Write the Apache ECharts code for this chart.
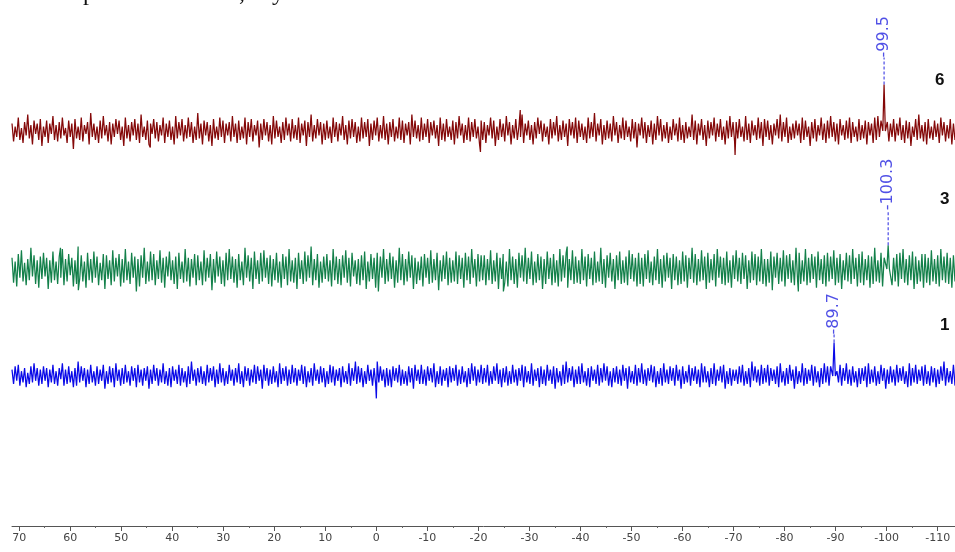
<!DOCTYPE html>
<html><head><meta charset="utf-8">
<script src="https://cdn.jsdelivr.net/npm/echarts@6/dist/echarts.min.js"></script>
<style>html,body{margin:0;padding:0;background:#fff}#c{width:955px;height:552px}</style>
</head><body><div id="c"></div>
<script>
// x axis (ppm), plotted high-to-low
const ppmStart = 71.4, ppmEnd = -113.4;
const majorTicks = [70,60,50,40,30,20,10,0,-10,-20,-30,-40,-50,-60,-70,-80,-90,-100,-110];
const minorTicks = [65,55,45,35,25,15,5,-5,-15,-25,-35,-45,-55,-65,-75,-85,-95,-105];
const traceNames = ['6','3','1'];

// baseline noise (arbitrary intensity units), left to right
const noise6 = [5,-7,3,-4,9,-6,2,-8,6,-3,11,-5,4,-9,7,-2,5,-6,8,-10,
3,-4,7,-8,5,-2,10,-6,4,-7,6,-5,9,-3,2,-8,7,-4,5,-12,
8,-5,3,-6,9,-7,4,-2,6,-9,12,-4,5,-6,3,-8,7,-5,10,-3,
4,-7,6,-9,5,-4,8,-2,7,-6,3,-10,9,-5,4,-7,6,-3,8,-6,
5,-8,11,-4,3,-6,7,-9,5,-2,8,-5,6,-7,4,-3,9,-8,5,-4,
7,-6,3,-9,10,-5,6,-3,8,-7,4,-5,9,-4,6,-8,3,-6,12,-5,
5,-9,7,-3,6,-7,4,-10,8,-5,3,-6,9,-4,7,-8,5,-3,6,-7,
10,-4,5,-8,7,-6,3,-5,9,-9,6,-4,8,-7,4,-3,7,-11,5,-6,
8,-3,6,-7,4,-9,10,-5,7,-4,3,-8,6,-6,9,-3,5,-7,8,-5,
4,-6,9,-8,5,-3,7,-10,6,-4,11,-7,4,-5,8,-3,6,-9,5,-6,
7,-5,3,-8,9,-4,6,-7,5,-3,10,-6,4,-9,7,-5,8,-4,6,-8,
3,-7,9,-5,6,-4,8,-10,5,-6,7,-3,9,-7,4,-5,10,-6,5,-9,
6,-4,8,-7,3,-5,9,-6,7,-8,5,-3,6,-9,11,-4,7,-5,4,-7,
9,-6,5,-4,8,-8,6,-3,7,-5,4,-10,9,-6,5,-7,8,-4,3,-6,
7,-9,6,-5,10,-3,5,-8,4,-6,9,-7,6,-4,8,-5,3,-9,7,-6,
6,-8,4,-3,9,-5,7,-10,3,-6,8,-4,5,-7,10,-3,6,-9,4,-5,
8,-6,3,-4,11,-8,5,-3,7,-6,4,-9,6,-5,9,-2,7,-7,5,-4,
3,-9,8,-5,6,-3,10,-7,4,-6,7,-4,5,-10,8,-3,6,-5,9,-8,
7,-4,5,-6,3,-8,9,-5,6,-4,12,-7,5,-3,8,-9,4,-6,7,-5,
5,-7,10,-3,6,-8,4,-5,9,-6,7,-4,3,-7,8,-5,6,-11,5,-3,
9,-5,6,-8,4,-4,7,-9,5,-6,10,-3,8,-7,4,-5,6,-8,3,-6,
8,-3,5,-7,9,-6,4,-8,6,-5,3,-4,11,-6,7,-9,5,-3,8,-6,
4,-10,7,-5,6,-3,9,-7,5,-4,8,-6,3,-9,7,-5,10,-4,6,-7,
6,-5,8,-4,3,-7,10,-6,5,-8,7,-3,4,-6,9,-5,6,-10,8,-4,
7,-6,4,-9,5,-3,8,-5,11,-7,6,-4,9,-8,3,-6,5,-5,7,-3,
5,-8,9,-6,7,-4,3,-10,6,-5,8,-7,4,-3,9,-6,5,-8,7,-5,
10,-4,6,-7,5,-9,8,-3,4,-6,7,-5,9,-8,6,-4,3,-7,8,-6,
4,-5,7,-9,6,-3,5,-8,9,-6,10,-4,7,-5,3,-9,6,-7,5,-4,
8,-7,5,-3,9,-6,4,-8,7,-5,6,-10,3,-4,8,-6,11,-5,4,-7,
6,-9,8,-5,3,-6,7,-4,5,-8,9,-3,6,-7,4,-5,8,-9,5,-6];
const noise3 = [9,-11,6,-14,12,-7,15,-10,5,-13,8,-9,17,-6,11,-12,7,-15,10,-8,
13,-6,9,-16,7,-11,14,-9,6,-12,10,-7,16,-13,8,-10,12,-5,9,-14,
7,-12,18,-8,11,-10,6,-15,13,-9,8,-11,14,-7,10,-13,5,-9,12,-16,
11,-8,7,-13,15,-10,9,-6,12,-14,8,-11,16,-9,6,-12,13,-7,10,-18,
8,-14,11,-7,17,-12,6,-10,14,-9,12,-13,7,-8,15,-11,9,-15,10,-6,
14,-9,7,-12,10,-16,13,-8,6,-11,16,-10,9,-14,8,-7,12,-13,11,-9,
6,-13,15,-10,9,-7,12,-17,8,-11,14,-6,10,-12,7,-14,13,-9,16,-8,
10,-11,8,-15,12,-9,6,-13,17,-7,11,-10,9,-16,14,-8,7,-12,13,-10,
15,-7,9,-12,11,-14,8,-9,13,-11,6,-15,12,-8,10,-13,16,-10,7,-11,
9,-16,13,-8,7,-12,14,-10,11,-7,18,-13,8,-9,12,-15,6,-11,10,-8,
12,-10,7,-14,16,-9,10,-12,8,-13,11,-7,15,-11,9,-14,13,-6,7,-12,
8,-13,11,-9,14,-16,6,-10,12,-8,9,-15,13,-11,10,-7,16,-12,8,-10,
13,-8,10,-15,7,-11,17,-9,12,-13,8,-10,14,-7,11,-16,9,-12,6,-9,
10,-14,12,-7,9,-12,15,-11,8,-9,13,-17,7,-10,11,-8,14,-13,9,-11,
7,-10,14,-12,11,-8,9,-15,13,-9,10,-12,16,-7,8,-14,12,-10,11,-9,
11,-13,8,-9,15,-12,7,-10,13,-16,9,-8,12,-11,6,-14,16,-9,10,-12,
8,-15,13,-7,11,-10,17,-12,9,-8,14,-13,6,-11,12,-9,10,-16,8,-12,
14,-8,9,-13,12,-11,7,-14,16,-10,11,-7,13,-15,8,-9,15,-12,10,-11,
7,-12,16,-9,10,-14,12,-8,9,-13,14,-11,6,-10,17,-12,8,-15,11,-7,
13,-10,8,-16,11,-9,14,-12,7,-11,10,-13,15,-8,12,-10,9,-14,13,-12,
9,-14,12,-8,15,-11,6,-13,10,-9,16,-12,8,-15,11,-10,13,-7,9,-16,
12,-9,10,-13,7,-12,14,-10,11,-15,9,-8,17,-11,12,-13,8,-10,15,-9,
10,-16,13,-11,8,-9,12,-14,16,-7,10,-12,9,-13,14,-11,7,-15,11,-8,
15,-10,9,-12,13,-8,11,-16,7,-11,14,-9,12,-13,10,-10,16,-12,8,-14,
8,-11,14,-15,10,-7,13,-12,9,-10,15,-14,11,-8,12,-11,7,-13,17,-9,
13,-12,7,-10,16,-13,9,-11,12,-8,10,-15,14,-9,8,-12,11,-14,13,-10,
10,-8,15,-13,9,-11,12,-16,7,-9,13,-10,11,-12,16,-8,9,-14,12,-11,
14,-13,8,-9,11,-15,10,-12,17,-10,7,-11,13,-14,9,-8,15,-12,10,-13,
9,-10,12,-14,13,-8,16,-11,8,-13,11,-9,14,-16,10,-12,7,-10,12,-15,
12,-11,9,-13,15,-10,8,-12,11,-14,16,-9,10,-11,13,-12,9,-15,11,-10];
const noise1 = [4,-5,6,-3,7,-6,3,-4,5,-7,2,-5,6,-4,8,-3,5,-6,4,-5,
6,-3,5,-7,4,-4,7,-5,3,-6,5,-2,8,-6,4,-5,6,-4,3,-7,
5,-6,9,-4,6,-3,5,-7,4,-5,7,-4,3,-6,6,-5,4,-3,7,-8,
3,-5,6,-4,5,-7,8,-3,4,-6,5,-5,7,-4,3,-6,6,-3,5,-7,
7,-4,4,-6,5,-3,6,-8,4,-5,7,-3,5,-6,4,-4,8,-5,3,-6,
5,-7,6,-3,4,-5,7,-6,5,-4,3,-7,6,-5,9,-3,4,-6,5,-4,
6,-5,3,-6,7,-4,5,-3,6,-7,4,-5,8,-4,5,-6,3,-5,7,-3,
4,-6,5,-4,8,-5,3,-7,6,-3,5,-6,4,-4,7,-5,6,-3,4,-8,
7,-3,5,-6,4,-5,6,-4,3,-7,8,-5,5,-3,6,-6,4,-5,7,-4,
5,-6,4,-3,7,-5,6,-7,3,-4,5,-6,8,-3,4,-5,6,-4,5,-7,
3,-5,7,-4,6,-6,4,-3,5,-7,6,-4,3,-5,8,-6,5,-3,7,-5,
6,-4,5,-7,3,-5,7,-3,4,-6,5,-5,9,-4,6,-3,4,-7,5,-6,
4,-7,6,-3,5,-4,7,-6,4,-5,3,-6,6,-4,5,-8,7,-3,4,-5,
7,-5,4,-6,6,-3,5,-4,8,-7,3,-5,6,-6,4,-3,5,-7,6,-4,
5,-3,7,-6,4,-5,6,-4,3,-7,5,-5,8,-3,6,-6,4,-4,7,-5,
5,-4,7,-6,3,-5,6,-3,8,-5,4,-7,5,-4,6,-6,3,-5,7,-4,
4,-6,5,-3,7,-7,6,-4,3,-5,8,-6,4,-3,5,-7,6,-5,4,-6,
7,-3,4,-5,6,-8,5,-4,3,-6,7,-5,9,-4,5,-3,6,-7,4,-5,
6,-5,8,-4,3,-6,5,-7,6,-3,4,-5,7,-6,5,-4,8,-3,6,-6,
3,-7,5,-4,6,-5,4,-6,7,-3,5,-8,6,-4,3,-5,7,-6,5,-4,
8,-5,4,-6,5,-3,7,-4,6,-7,3,-5,5,-6,8,-4,4,-5,6,-3,
5,-6,7,-3,4,-8,6,-5,3,-4,7,-6,5,-3,6,-5,4,-7,8,-4,
6,-4,3,-7,5,-5,8,-6,4,-3,6,-4,7,-8,3,-5,5,-6,4,-3,
4,-5,6,-4,7,-6,3,-5,5,-7,9,-3,6,-4,4,-6,7,-5,5,-4,
7,-6,5,-3,4,-5,6,-7,8,-4,3,-6,5,-5,7,-3,4,-8,6,-5,
3,-4,8,-6,5,-5,4,-3,7,-6,6,-4,3,-7,5,-5,8,-4,6,-6,
6,-7,4,-5,3,-4,7,-6,5,-3,8,-5,4,-6,6,-4,3,-7,5,-5,
5,-3,6,-7,8,-5,4,-4,6,-6,3,-5,7,-3,5,-8,4,-5,6,-4,
4,-6,7,-4,5,-3,6,-5,3,-7,8,-6,5,-4,7,-5,4,-3,6,-6,
7,-5,3,-6,6,-4,5,-7,4,-5,6,-3,9,-6,5,-4,3,-5,7,-6];

// isolated noise spikes [ppm, intensity]
const spikes6 = [[44.3,-11],[25.3,-10],[-20.4,-14],[-28.2,14],[-70.3,-16]];
const spikes3 = [[61.9,17],[58.4,-17],[-0.4,-18],[-24.9,-18],[-37.4,18],[-77.6,-17],[-82.7,-18]];
const spikes1 = [[4.1,9],[0,-14]];

// signals [ppm, intensity]
const peaks6 = [[-99.5,31]];
const peaks3 = [[-100.3,19]];
const peaks1 = [[-89.7,21]];
const peakLabels = ['-99.5','-100.3','-89.7'];
const leaderTop = [49, 47, 26]; // intensity where dashed leader ends / label starts

const traceColors = ['#840808','#13804a','#0a0ae8'];
const labelColor = '#2424e0';

function buildTrace(noise, spikes, peaks){
  const pts = noise.map((v,i)=>[ppmStart + (ppmEnd-ppmStart)*i/(noise.length-1), v]);
  const out = pts.filter(p => !peaks.some(k => Math.abs(p[0]-k[0]) < 0.5));
  spikes.forEach(s => out.push([s[0], s[1]]));
  peaks.forEach(k => { out.push([k[0]+0.25, 0]); out.push([k[0], k[1]]); out.push([k[0]-0.25, 0]); });
  out.sort((a,b)=>b[0]-a[0]);
  return out;
}

const traces = [buildTrace(noise6,spikes6,peaks6), buildTrace(noise3,spikes3,peaks3), buildTrace(noise1,spikes1,peaks1)];
const peakSets = [peaks6, peaks3, peaks1];

const grids = [
  {left:12, right:0, top:0.5, height:171},
  {left:12, right:0, top:149, height:170},
  {left:12, right:0, top:296, height:230}
];
const yRanges = [[-27,87],[-40,96],[-93.75,50]];

const xAxes = grids.map((g,i)=>({
  type:'value', gridIndex:i, min:ppmEnd, max:ppmStart, inverse:true, show:i===2, position:'bottom',
  axisLine:{show:true, onZero:false, lineStyle:{color:'#555', width:1}},
  axisTick:{show:true, length:5, lineStyle:{color:'#555'}, customValues:majorTicks},
  axisLabel:{show:true, customValues:majorTicks, margin:7, color:'#444', fontFamily:'DejaVu Sans', fontSize:11},
  splitLine:{show:false}
}));
xAxes.push({
  type:'value', gridIndex:2, min:ppmEnd, max:ppmStart, inverse:true, position:'bottom', offset:0,
  axisLine:{show:false, onZero:false}, axisLabel:{show:false}, splitLine:{show:false},
  axisTick:{show:true, length:2, lineStyle:{color:'#666'}, customValues:minorTicks}
});
const yAxes = grids.map((g,i)=>({type:'value', gridIndex:i, min:yRanges[i][0], max:yRanges[i][1], show:false, splitLine:{show:false}}));

const series = [];
traces.forEach((d,i)=>{
  series.push({type:'line', xAxisIndex:i, yAxisIndex:i, data:d, symbol:'none', showSymbol:false,
    lineStyle:{color:traceColors[i], width:1.25}, clip:false, silent:true, z:2});
  const pk = peakSets[i][0];
  series.push({type:'line', xAxisIndex:i, yAxisIndex:i, data:[[pk[0],pk[1]],[pk[0],leaderTop[i]]],
    symbol:'none', showSymbol:false, lineStyle:{color:labelColor, width:1, type:[3,2]}, clip:false, silent:true, z:3});
  series.push({type:'scatter', xAxisIndex:i, yAxisIndex:i, data:[[pk[0],leaderTop[i]]], symbolSize:0, clip:false, silent:true,
    label:{show:true, formatter:peakLabels[i], rotate:90, position:[0,0], align:'left', verticalAlign:'middle',
      color:labelColor, fontFamily:'DejaVu Sans', fontSize:16}});
});

const chart = echarts.init(document.getElementById('c'), null, {renderer:'canvas'});
chart.setOption({
  animation:false,
  backgroundColor:'#fff',
  grid:grids, xAxis:xAxes, yAxis:yAxes, series:series,
  graphic:[
    {type:'text', left:935, top:72, style:{text:traceNames[0], font:'bold 17px "Liberation Sans"', fill:'#111'}},
    {type:'text', left:940, top:191, style:{text:traceNames[1], font:'bold 17px "Liberation Sans"', fill:'#111'}},
    {type:'text', left:940, top:317, style:{text:traceNames[2], font:'bold 17px "Liberation Sans"', fill:'#111'}},
    {type:'text', left:83, top:-18, style:{text:'p', font:'24px "Liberation Serif"', fill:'#111'}},
    {type:'text', left:239, top:-18, style:{text:',', font:'24px "Liberation Serif"', fill:'#111'}},
    {type:'text', left:272, top:-18, style:{text:'y', font:'24px "Liberation Serif"', fill:'#111'}}
  ]
});
</script>
</body></html>
